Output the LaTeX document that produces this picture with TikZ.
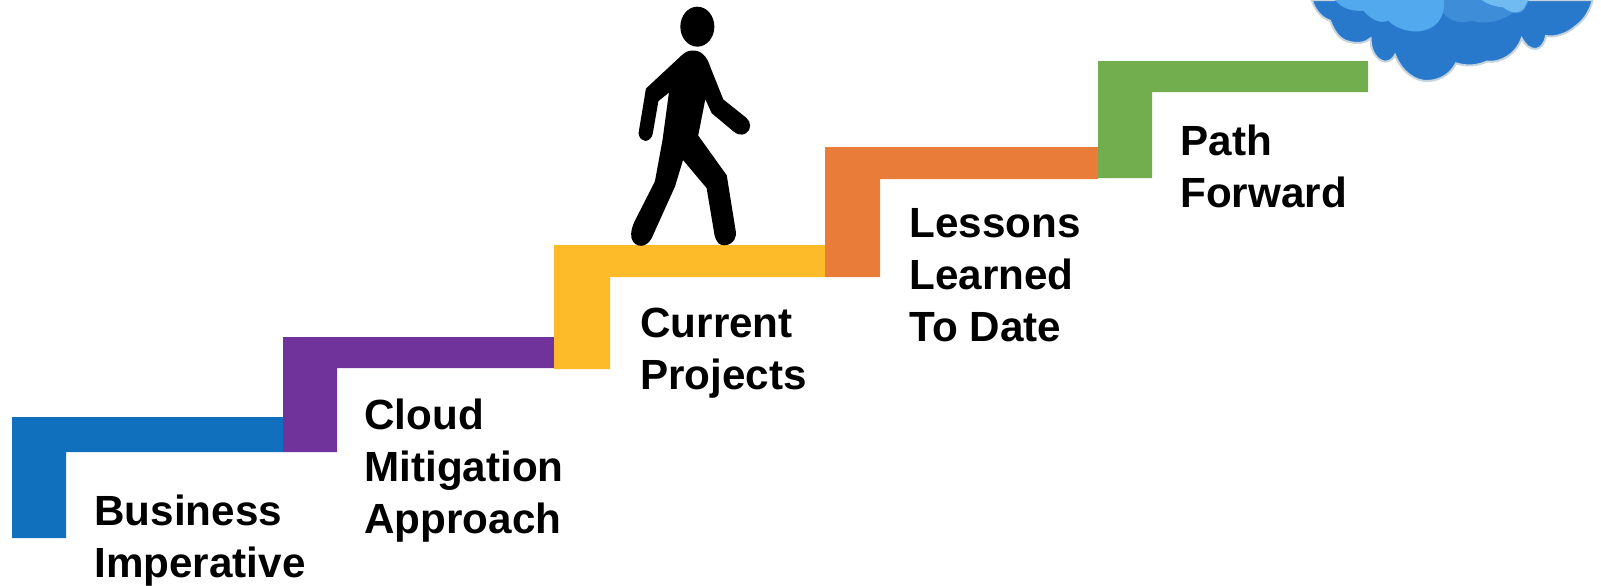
\documentclass[tikz,border=0pt]{standalone}
\usepackage{fontspec}
\setmainfont{Liberation Sans}
\definecolor{sblue}{HTML}{1170BE}
\definecolor{spurple}{HTML}{70339B}
\definecolor{syellow}{HTML}{FDBB2A}
\definecolor{sorange}{HTML}{EA7C3A}
\definecolor{sgreen}{HTML}{72AE4D}
\definecolor{cloudmain}{HTML}{2879CB}
\definecolor{cloudedge}{HTML}{C6D3DC}
\definecolor{cloudlight}{HTML}{52A9EE}
\definecolor{cloudmid}{HTML}{3D8DD8}
\definecolor{cloudpale}{HTML}{6FBBF2}
\tikzset{
  label text/.style={anchor=north west,inner sep=0pt,align=left,text=black,
    font=\fontsize{21.1}{26}\selectfont\bfseries},
  zoomed/.style={x=0.16667pt,y=-0.16667pt}
}
\begin{document}
\begin{tikzpicture}[x=0.5pt,y=-0.5pt]
\useasboundingbox (0,0) rectangle (1601,585);
% stairs
\fill[sblue] (12,417) -| (283,452) -| (66,538) -| (12,417) -- cycle;
\fill[spurple] (283,337) -| (554,368) -| (337,452) -| (283,337) -- cycle;
\fill[syellow] (554,245) -| (825,277) -| (610,369) -| (554,245) -- cycle;
\fill[sorange] (825,147) -| (1098,179) -| (880,277) -| (825,147) -- cycle;
\fill[sgreen] (1098,61) -| (1368,92) -| (1152,178) -| (1098,61) -- cycle;
% labels
\node[label text] (business) at (94,495) {Business\\Imperative};
\node[label text] (cloud) at (364,399) {Cloud\\Mitigation\\Approach};
\node[label text] (current) at (640,308) {Current\\Projects};
\node[label text] (lessons) at (909,208.5) {Lessons\\Learned\\To Date};
\node[label text] (path) at (1180,125) {Path\\Forward};
% walking figure
\begin{scope}[shift={(610,0)},zoomed]
\fill[black] (262,80) ellipse [x radius=51,y radius=60];
\filldraw[black,line width=0.8pt,line join=round]
  (245,154) .. controls (270,152) and (288,167) .. (300,205)
  -- (338,300) -- (406,354)
  .. controls (422,367) and (422,388) .. (406,398)
  .. controls (395,405) and (382,400) .. (374,394)
  -- (307,338) -- (285,290) -- (262,407) -- (348,527) -- (375,695)
  .. controls (379,728) and (345,742) .. (327,728)
  .. controls (320,720) and (318,713) .. (316,705)
  -- (292,563) -- (218,475) -- (193,558) -- (123,713)
  .. controls (108,742) and (77,742) .. (67,715)
  .. controls (63,695) and (70,680) .. (75,667)
  -- (137,545) -- (160,420) -- (180,272) -- (143,302) -- (126,400)
  .. controls (120,427) and (92,427) .. (88,400)
  -- (110,267) -- (212,172)
  .. controls (222,162) and (233,154) .. (245,154) -- cycle;
\end{scope}
% cloud
\begin{scope}[shift={(1280,0)},zoomed]
\fill[cloudmain,draw=cloudedge,line width=1pt]
  (95,0) .. controls (105,30) and (125,55) .. (150,62)
  .. controls (165,100) and (180,118) .. (205,125)
  .. controls (230,132) and (255,130) .. (272,115)
  .. controls (270,150) and (290,182) .. (315,185)
  .. controls (330,185) and (340,175) .. (345,165)
  .. controls (365,215) and (405,245) .. (445,243)
  .. controls (490,240) and (515,215) .. (528,190)
  .. controls (560,200) and (590,198) .. (620,185)
  .. controls (665,190) and (710,160) .. (725,115)
  .. controls (735,135) and (750,148) .. (768,147)
  .. controls (785,145) and (795,125) .. (798,108)
  .. controls (830,115) and (870,95) .. (885,80)
  .. controls (915,60) and (930,30) .. (938,0) -- cycle;
\fill[cloudmid]
  (480,0) -- (490,40) .. controls (515,70) and (550,70) .. (575,62)
  .. controls (610,75) and (665,65) .. (700,38)
  .. controls (720,45) and (735,38) .. (745,0) -- cycle;
\fill[cloudpale]
  (605,0) .. controls (625,15) and (650,20) .. (670,22)
  .. controls (690,40) and (720,45) .. (735,20) -- (745,0) -- cycle;
\fill[cloudlight]
  (165,0) .. controls (185,25) and (215,35) .. (250,32)
  .. controls (275,60) and (300,72) .. (325,62)
  .. controls (350,90) and (410,105) .. (450,85)
  .. controls (480,70) and (495,40) .. (492,0) -- cycle;
\end{scope}
\end{tikzpicture}
\end{document}
